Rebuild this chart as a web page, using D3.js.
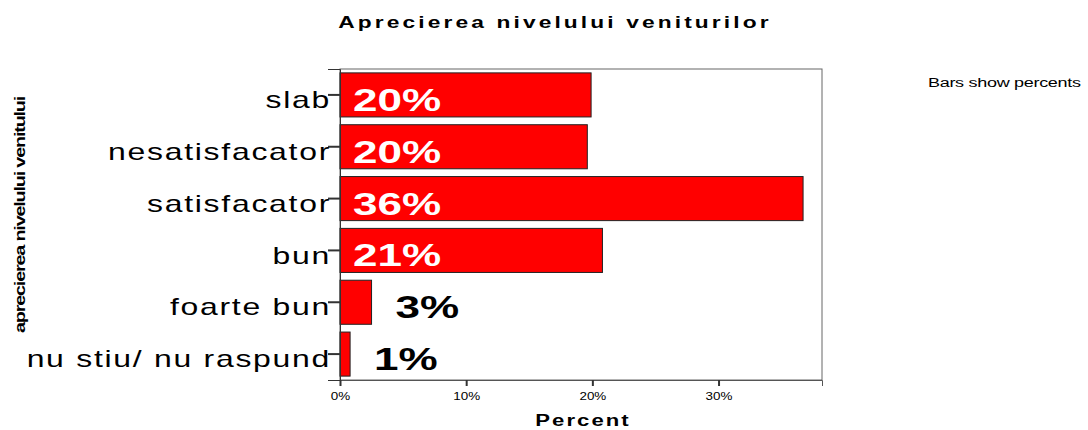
<!DOCTYPE html>
<html><head><meta charset="utf-8">
<script src="https://cdn.jsdelivr.net/npm/d3@7"></script>
<style>body{margin:0;background:#fff}text{font-family:"Liberation Sans",Arial,sans-serif}</style>
</head><body><svg id="c" width="1088" height="430"></svg>
<script>
const categories = ["slab","nesatisfacator","satisfacator","bun","foarte bun","nu stiu/ nu raspund"];
const values = [19.9, 19.6, 36.7, 20.8, 2.5, 0.8];
const valueLabels = ["20%","20%","36%","21%","3%","1%"];
const xTicks = [0, 10, 20, 30];
const tickLabels = ["0%","10%","20%","30%"];

const svg = d3.select("#c");
const m = {l:340, r:822, t:69, b:380};
const x = d3.scaleLinear().domain([0, 38.2]).range([m.l, m.r]);
const y = d3.scaleBand().domain(categories).range([m.t, m.b]).paddingInner(0.15).paddingOuter(0.075);

function stretch(sel, f) {
  sel.each(function(){
    const w = this.getComputedTextLength();
    d3.select(this).attr("textLength", w*f).attr("lengthAdjust","spacingAndGlyphs");
  });
  return sel;
}

stretch(svg.append("text").attr("x", 555).attr("y", 28).attr("text-anchor","middle")
  .attr("font-size", 16).attr("font-weight","bold").attr("letter-spacing", 2.2)
  .text("Aprecierea nivelului veniturilor"), 1.42);

svg.append("rect").attr("x", m.l).attr("y", m.t).attr("width", m.r-m.l).attr("height", m.b-m.t)
  .attr("fill","none").attr("stroke","#666").attr("stroke-width",1);

svg.selectAll("rect.bar").data(values).join("rect").attr("class","bar")
  .attr("x", x(0)).attr("y", (d,i)=>y(categories[i]))
  .attr("width", d=>x(d)-x(0)).attr("height", y.bandwidth())
  .attr("fill","#ff0000").attr("stroke","#222").attr("stroke-width",1);

stretch(svg.selectAll("text.vl").data(values).join("text").attr("class","vl")
  .attr("x", d => d > 10 ? x(0) + 13 : x(d) + 24)
  .attr("y", (d,i)=>y(categories[i]) + y.bandwidth()/2 + 16)
  .attr("font-size", 31).attr("font-weight","bold")
  .attr("fill", d => d > 10 ? "#fff" : "#000")
  .text((d,i)=>valueLabels[i]), 1.42);

// y axis
const ya = svg.append("g").attr("transform", `translate(${m.l},0)`)
  .call(d3.axisLeft(y).tickSize(12).tickPadding(-3));
ya.select(".domain").attr("stroke","#333");
ya.selectAll(".tick line").attr("stroke","#333").attr("stroke-width",2);
stretch(ya.selectAll(".tick text").attr("font-size", 24).attr("fill","#000").attr("letter-spacing", 1.3)
  .attr("dy","0.55em").attr("font-family","Liberation Sans, Arial, sans-serif"), 1.33);

// x axis
const xa = svg.append("g").attr("transform", `translate(0,${m.b})`)
  .call(d3.axisBottom(x).tickValues(xTicks).tickFormat((d,i)=>tickLabels[i]).tickSize(6).tickPadding(6));
xa.select(".domain").attr("stroke","#555");
xa.selectAll(".tick line").attr("stroke","#333").attr("stroke-width",2);
stretch(xa.selectAll(".tick text").attr("font-size", 11).attr("fill","#000").attr("font-family","Liberation Sans, Arial, sans-serif"), 1.22);

stretch(svg.append("text").attr("x", 583).attr("y", 426).attr("text-anchor","middle")
  .attr("font-size", 16).attr("font-weight","bold").attr("letter-spacing", 1.5).text("Percent"), 1.38);

stretch(svg.append("text").attr("transform","translate(25,215) rotate(-90)").attr("text-anchor","middle")
  .attr("font-size", 15).attr("font-weight","bold").attr("letter-spacing", -0.9)
  .text("aprecierea nivelului venitului"), 1.32);

stretch(svg.append("text").attr("x", 928).attr("y", 87).attr("font-size", 12).attr("letter-spacing", -0.2)
  .text("Bars show percents"), 1.5);
</script></body></html>
